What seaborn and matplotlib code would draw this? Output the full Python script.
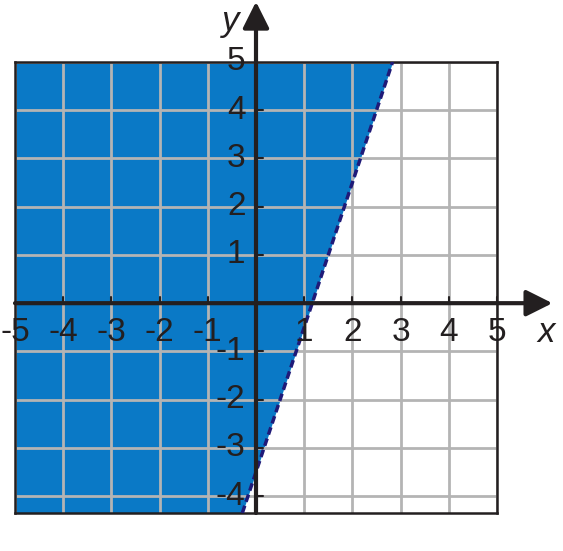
import numpy as np
import matplotlib
matplotlib.use('Agg')
import matplotlib.pyplot as plt
import pandas as pd
import seaborn as sns

#Data: boundary line y = slope*x + intercept (dashed, region to the left shaded)
slope = 3.0
intercept = -3.5
x_ticks = [-5, -4, -3, -2, -1, 1, 2, 3, 4, 5]
y_ticks = [-4, -3, -2, -1, 1, 2, 3, 4, 5]
x_range = [-5, 5]
y_range = [-4.35, 5]

sns.set_style('white')
plt.rcParams['font.family'] = ['Liberation Sans', 'DejaVu Sans']

fill_col = '#0a79c6'
ink = '#231f20'

fig = plt.figure(figsize=(5.63, 5.51), dpi=100)
ax = fig.add_axes([15/563, 38/551, 482/563, 451/551])
ax.set_xlim(x_range)
ax.set_ylim(y_range)

#Shaded half plane
ys = np.array(y_range)
xs_line = (ys - intercept) / slope
ax.fill_betweenx(ys, x_range[0], xs_line, color=fill_col, lw=0, zorder=1)

#Grid
for gx in range(x_range[0], x_range[1] + 1):
    ax.axvline(gx, color='#b4b4b4', lw=2, zorder=2)
for gy in range(-4, 6):
    ax.axhline(gy, color='#b4b4b4', lw=2, zorder=2)

#Boundary line
df_line = pd.DataFrame({'x': xs_line, 'y': ys})
sns.lineplot(data=df_line, x='x', y='y', ax=ax, color='#1f1a78', lw=2.5,
             linestyle=(0, (2.2, 1.2)), zorder=4)

#Box
for s in ax.spines.values():
    s.set_color(ink)
    s.set_linewidth(1.8)
ax.set_xticks([])
ax.set_yticks([])
ax.set_xlabel('')
ax.set_ylabel('')

#Axes with arrows
ax.annotate('', xy=(6.15, 0), xytext=(x_range[0], 0), annotation_clip=False,
            arrowprops=dict(arrowstyle='-|>', mutation_scale=40, lw=3,
                            color=ink, shrinkA=0, shrinkB=0), zorder=5)
ax.annotate('', xy=(0, 6.25), xytext=(0, y_range[0]), annotation_clip=False,
            arrowprops=dict(arrowstyle='-|>', mutation_scale=40, lw=3,
                            color=ink, shrinkA=0, shrinkB=0), zorder=5)

#Small tick marks on the axes
for t in x_ticks:
    ax.plot([t, t], [0, 0.12], color=ink, lw=1.5, zorder=5)
for t in y_ticks:
    ax.plot([0, 0.14], [t, t], color=ink, lw=1.5, zorder=5)

#Tick labels
for t in x_ticks:
    ax.text(t, -0.6, str(t), ha='center', va='center',
            fontsize=24, color=ink, zorder=6, clip_on=False)
for t in y_ticks:
    ax.text(-0.22, t, str(t), ha='right', va='center',
            fontsize=24, color=ink, zorder=6, clip_on=False)

ax.text(6.02, -0.6, 'x', ha='center', va='center', fontsize=25,
        style='italic', color=ink, clip_on=False)
ax.text(-0.52, 5.85, 'y', ha='center', va='center', fontsize=25,
        style='italic', color=ink, clip_on=False)

plt.savefig('out.png', dpi=100)
